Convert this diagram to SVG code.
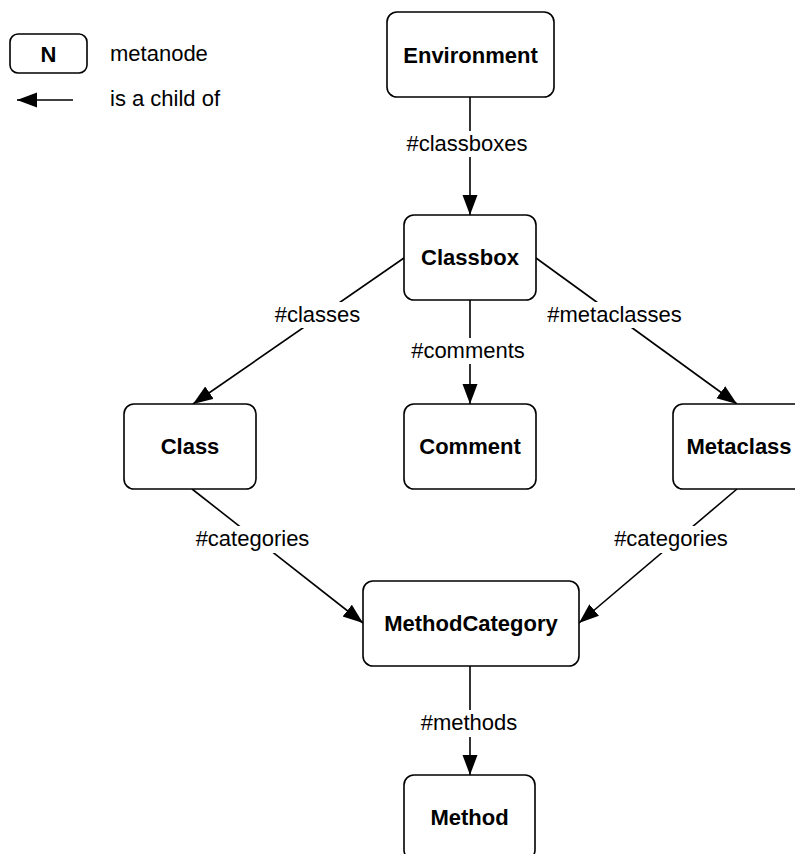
<svg xmlns="http://www.w3.org/2000/svg" width="795" height="854" viewBox="0 0 795 854">
<style>
  .node rect { fill: #ffffff; stroke: #000000; stroke-width: 1.6; }
  .nt { font-family: "Liberation Sans", Arial, Helvetica, sans-serif; font-size: 22px; font-weight: bold; fill: #000; text-anchor: middle; }
  .lt { font-family: "Liberation Sans", Arial, Helvetica, sans-serif; font-size: 22px; fill: #000; text-anchor: middle; }
  .legt { font-family: "Liberation Sans", Arial, Helvetica, sans-serif; font-size: 22px; fill: #000; }
  .edge { stroke: #000; stroke-width: 1.6; fill: none; marker-end: url(#arrow); }
  .bg { fill: #ffffff; stroke: none; }
</style>
<defs>
  <marker id="arrow" markerUnits="userSpaceOnUse" markerWidth="22" markerHeight="16" refX="20" refY="7.5" orient="auto">
    <path d="M0,0 L20,7.5 L0,15 z" fill="#000"/>
  </marker>
</defs>
<rect x="0" y="0" width="795" height="854" fill="#ffffff"/>

<g id="legend">
  <rect x="10" y="34" width="77" height="39" rx="8" ry="8" fill="#fff" stroke="#000" stroke-width="1.6"/>
  <text class="nt" x="48.5" y="61.5">N</text>
  <text class="legt" x="110" y="60.5">metanode</text>
  <line x1="73" y1="100" x2="17" y2="100" stroke="#000" stroke-width="1.6" marker-end="url(#arrow)"/>
  <text class="legt" x="110" y="106">is a child of</text>
</g>

<g id="connectors">
  <line class="edge" x1="470" y1="97" x2="470" y2="215"/>
  <line class="edge" x1="404" y1="258" x2="193" y2="404"/>
  <line class="edge" x1="470" y1="300" x2="470" y2="404"/>
  <line class="edge" x1="536" y1="258" x2="737" y2="404"/>
  <line class="edge" x1="192" y1="489" x2="363" y2="623"/>
  <line class="edge" x1="737" y1="489" x2="579" y2="623"/>
  <line class="edge" x1="470" y1="666" x2="470" y2="775"/>

  <rect class="bg" x="403" y="131" width="128" height="26"/>
  <text class="lt" x="467" y="151">#classboxes</text>
  <rect class="bg" x="272" y="302" width="92" height="26"/>
  <text class="lt" x="317.5" y="322">#classes</text>
  <rect class="bg" x="540" y="302" width="150" height="26"/>
  <text class="lt" x="614.5" y="322">#metaclasses</text>
  <rect class="bg" x="408" y="338" width="120" height="26"/>
  <text class="lt" x="468" y="358">#comments</text>
  <rect class="bg" x="194" y="526" width="118" height="27"/>
  <text class="lt" x="252.5" y="546">#categories</text>
  <rect class="bg" x="612" y="526" width="118" height="27"/>
  <text class="lt" x="671" y="546">#categories</text>
  <rect class="bg" x="420" y="710" width="98" height="27"/>
  <text class="lt" x="469" y="730">#methods</text>
</g>

<g id="Environment" class="node">
  <rect x="387" y="12" width="167" height="85" rx="10" ry="10"/>
  <text class="nt" x="470.5" y="62.5">Environment</text>
</g>
<g id="Classbox" class="node">
  <rect x="404" y="215" width="132" height="85" rx="10" ry="10"/>
  <text class="nt" x="470" y="265">Classbox</text>
</g>
<g id="Class" class="node">
  <rect x="124" y="404" width="132" height="85" rx="10" ry="10"/>
  <text class="nt" x="190" y="454">Class</text>
</g>
<g id="Comment" class="node">
  <rect x="404" y="404" width="132" height="85" rx="10" ry="10"/>
  <text class="nt" x="470" y="454">Comment</text>
</g>
<g id="Metaclass" class="node">
  <rect x="673" y="404" width="132" height="85" rx="10" ry="10"/>
  <text class="nt" x="739" y="454">Metaclass</text>
</g>
<g id="MethodCategory" class="node">
  <rect x="363" y="581" width="216" height="85" rx="10" ry="10"/>
  <text class="nt" x="471" y="631">MethodCategory</text>
</g>
<g id="Method" class="node">
  <rect x="404" y="775" width="131" height="85" rx="10" ry="10"/>
  <text class="nt" x="469.5" y="825">Method</text>
</g>
</svg>
